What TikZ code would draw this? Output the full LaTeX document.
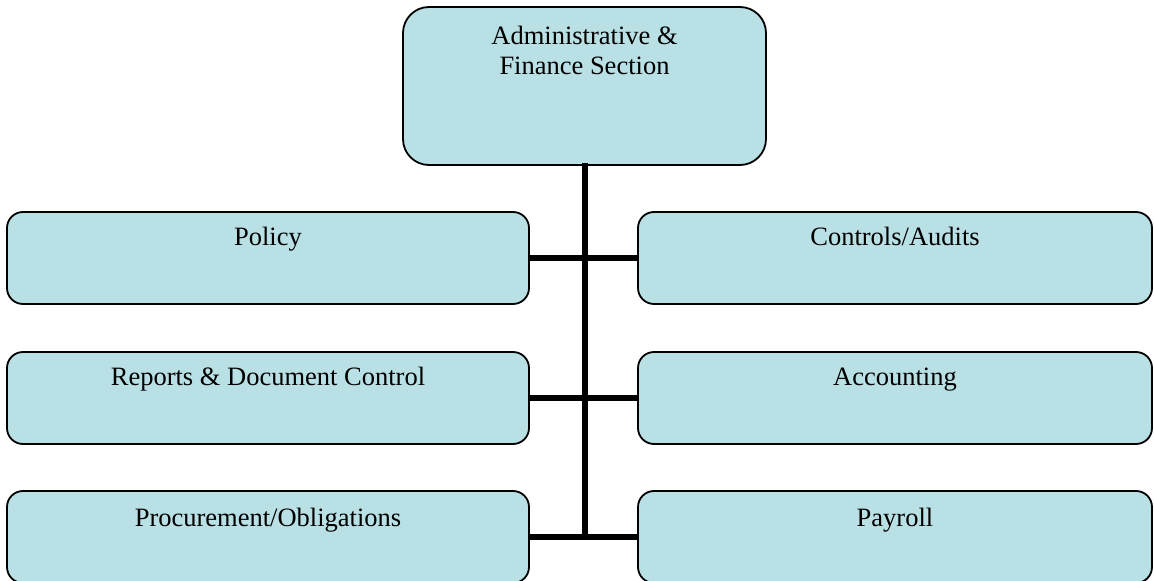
\documentclass[tikz,border=0pt]{standalone}
\usepackage{fontspec}
\setmainfont{Liberation Serif}
\usetikzlibrary{calc}
\definecolor{boxfill}{RGB}{185,224,228}
\tikzset{
  orgbox/.style={draw=black, line width=1.8bp, fill=boxfill, rounded corners=16bp, inner sep=0pt, minimum height=92bp},
  topbox/.style={draw=black, line width=1.8bp, fill=boxfill, rounded corners=26bp, inner sep=0pt, minimum width=363bp, minimum height=158bp},
  lbl/.style={inner sep=0pt, anchor=base, font=\fontsize{26.5bp}{30bp}\selectfont},
  conn/.style={line width=6bp, black}
}
\begin{document}
\begin{tikzpicture}[x=1bp, y=-1bp]
\useasboundingbox (0,0) rectangle (1154,581);
% boxes
\node[topbox] (top) at (584.5,86) {};
\node[orgbox, minimum width=522bp] (l1) at (268,258) {};
\node[orgbox, minimum width=522bp] (l2) at (268,398) {};
\node[orgbox, minimum width=522bp] (l3) at (268,537) {};
\node[orgbox, minimum width=514bp] (r1) at (895,258) {};
\node[orgbox, minimum width=514bp] (r2) at (895,398) {};
\node[orgbox, minimum width=514bp] (r3) at (895,537) {};
% connectors
\draw[conn, line cap=rect] (top.south) -- (top.south |- l3.east);
\draw[conn] (l1.east) -- (r1.west);
\draw[conn] (l2.east) -- (r2.west);
\draw[conn] (l3.east) -- (r3.west);
% labels
\node[inner sep=0pt, anchor=north, align=center, font=\fontsize{26.5bp}{30bp}\selectfont] (ttop) at ($(top.north)+(0,20)$) {Administrative \&\\Finance Section};
\node[lbl] (tl1) at ($(l1.north)+(0,34)$) {Policy};
\node[lbl] (tl2) at ($(l2.north)+(0,34)$) {Reports \& Document Control};
\node[lbl] (tl3) at ($(l3.north)+(0,36)$) {Procurement/Obligations};
\node[lbl] (tr1) at ($(r1.north)+(0,34)$) {Controls/Audits};
\node[lbl] (tr2) at ($(r2.north)+(0,34)$) {Accounting};
\node[lbl] (tr3) at ($(r3.north)+(0,36)$) {Payroll};
\end{tikzpicture}
\end{document}
